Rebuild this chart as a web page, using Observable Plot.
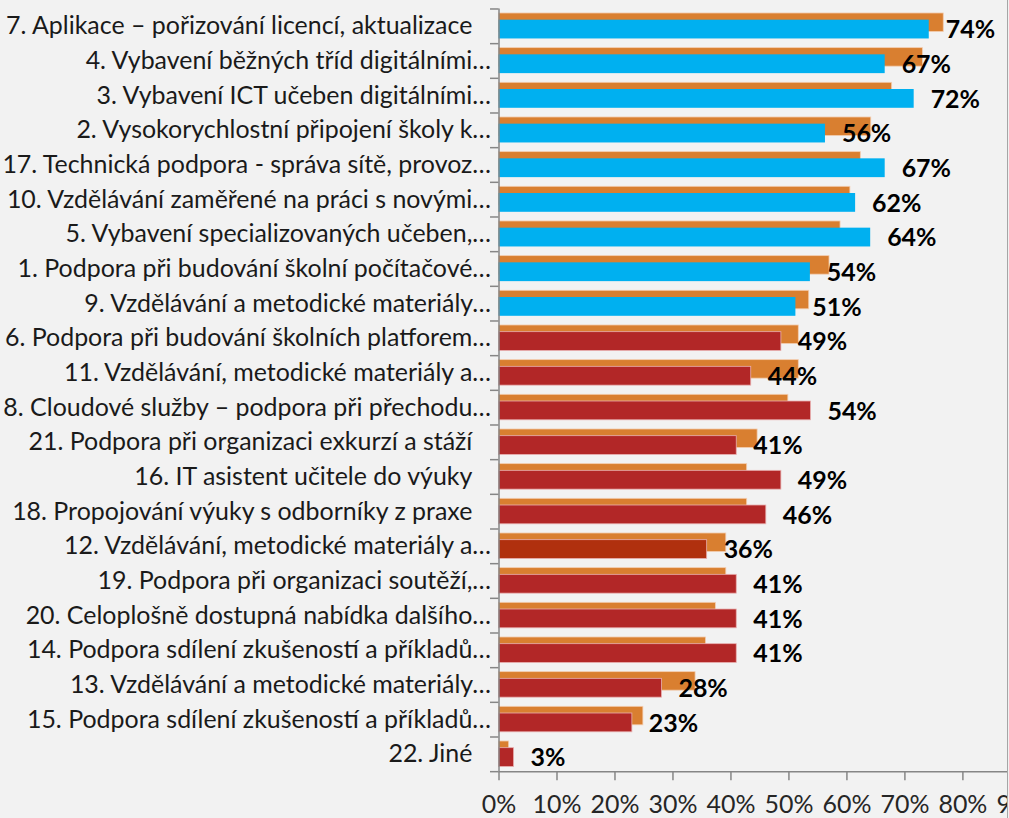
<!DOCTYPE html>
<html><head><meta charset="utf-8">
<script src="https://cdn.jsdelivr.net/npm/d3@7"></script>
<script src="https://cdn.jsdelivr.net/npm/@observablehq/plot@0.6"></script>
<style>
html,body{margin:0;padding:0;background:#f2f2f2;overflow:hidden;}
#chart{width:1007px;height:818px;overflow:hidden;border-right:1px solid #a6a6a6;}
</style></head><body><div id="chart"></div>
<script>
const categories = [
  "7. Aplikace – pořizování licencí, aktualizace",
  "4. Vybavení běžných tříd digitálními…",
  "3. Vybavení ICT učeben digitálními…",
  "2. Vysokorychlostní připojení školy k…",
  "17. Technická podpora - správa sítě, provoz…",
  "10. Vzdělávání zaměřené na práci s novými…",
  "5. Vybavení specializovaných učeben,…",
  "1. Podpora při budování školní počítačové…",
  "9. Vzdělávání a metodické materiály…",
  "6. Podpora při budování školních platforem…",
  "11. Vzdělávání, metodické materiály a…",
  "8. Cloudové služby – podpora při přechodu…",
  "21. Podpora při organizaci exkurzí a stáží",
  "16. IT asistent učitele do výuky",
  "18. Propojování výuky s odborníky z praxe",
  "12. Vzdělávání, metodické materiály a…",
  "19. Podpora při organizaci soutěží,…",
  "20. Celoplošně dostupná nabídka dalšího…",
  "14. Podpora sdílení zkušeností a příkladů…",
  "13. Vzdělávání a metodické materiály…",
  "15. Podpora sdílení zkušeností a příkladů…",
  "22. Jiné"
];
// orange (background) series
const backValues = [0.767, 0.731, 0.678, 0.642, 0.624, 0.606, 0.589, 0.570, 0.535, 0.517, 0.517, 0.499,
  0.446, 0.428, 0.428, 0.392, 0.392, 0.374, 0.357, 0.339, 0.249, 0.0175];
// front series (labelled)
const frontValues = [0.742, 0.666, 0.716, 0.563, 0.666, 0.615, 0.641, 0.537, 0.512, 0.487, 0.435, 0.538,
  0.410, 0.487, 0.461, 0.359, 0.410, 0.410, 0.410, 0.281, 0.230, 0.026];
const frontGroup = ["ICT","ICT","ICT","ICT","ICT","ICT","ICT","ICT","ICT",
  "other","other","other","other","other","other","dark","other","other","other","other","other","other"];
const xTicks = [0, 0.1, 0.2, 0.3, 0.4, 0.5, 0.6, 0.7, 0.8, 0.9];
const xTickLabels = ["0%","10%","20%","30%","40%","50%","60%","70%","80%","90%"];

const rows = categories.map((c, i) => ({category: c, back: backValues[i], front: frontValues[i], group: frontGroup[i]}));

const W = 1009, H = 818, mT = 8.5, mB = 45.3, mL = 499.5, mR = -71.5;
const bw = (H - mT - mB) / categories.length;
const FONT = "Lato, 'Open Sans', sans-serif";
const pct = d3.format(".0%");
const padLabel = d => d.endsWith("…") ? d : d + "\u2003";

const chart = Plot.plot({
  width: W, height: H,
  marginTop: mT, marginBottom: mB, marginLeft: mL, marginRight: mR,
  style: {background: "transparent", fontFamily: FONT, fontSize: "25px", color: "#1a1a1a", overflow: "visible"},
  x: {domain: [0, 1], axis: null},
  y: {domain: categories, padding: 0, round: false, axis: null},
  color: {domain: ["ICT", "other", "dark"], range: ["#00b0f0", "#b22727", "#b0300e"]},
  marks: [
    Plot.barX(rows, {x: "back", y: "category", fill: "#d97f30", insetTop: 4.5, insetBottom: 11.7,
      stroke: "#f3cdb0", strokeWidth: 0.8}),
    Plot.barX(rows, {x: "front", y: "category", fill: "group", insetTop: 11.2, insetBottom: 4.7,
      stroke: d => d.group === "ICT" ? "none" : "#e8b0b0", strokeWidth: 0.8}),
    Plot.text(rows, {x: "front", y: "category", text: d => pct(d.front), textAnchor: "start",
      dx: 16.5, dy: 4, fontWeight: "bold", fontSize: 25, fill: "#000"}),
    Plot.ruleX([0], {stroke: "#868686", strokeWidth: 1.5}),
    Plot.ruleY([categories[categories.length - 1]], {dy: bw / 2, stroke: "#868686", strokeWidth: 1.5}),
    Plot.axisY({tickSize: 0, tickPadding: 8, tickFormat: padLabel, fontSize: 25, fill: "#1a1a1a", label: null}),
    Plot.axisY({tickSize: 8.5, tickFormat: () => "", dy: -bw / 2, stroke: "#868686", strokeWidth: 1.5, label: null}),
    Plot.axisY({ticks: [categories[categories.length - 1]], tickSize: 8.5, tickFormat: () => "", dy: bw / 2,
      stroke: "#868686", strokeWidth: 1.5, label: null}),
    Plot.axisX({ticks: xTicks, tickFormat: d => xTickLabels[xTicks.indexOf(d)], tickSize: 9, tickPadding: 15,
      stroke: "#868686", strokeWidth: 1.5, fontSize: 25, fill: "#262626", label: null})
  ]
});
document.getElementById("chart").appendChild(chart);
</script></body></html>
